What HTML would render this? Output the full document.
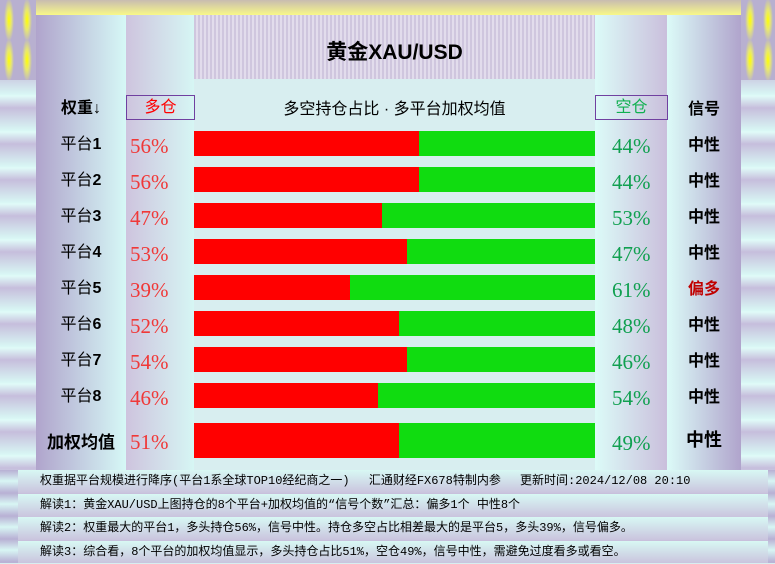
<!DOCTYPE html>
<html><head><meta charset="utf-8"><style>
*{margin:0;padding:0;box-sizing:border-box}
body{width:775px;height:563px;overflow:hidden;background:#d8eef0;font-family:"Liberation Sans","Noto Sans CJK SC",sans-serif;position:relative}
.a{position:absolute}
.side{background:repeating-linear-gradient(180deg,#c6bedc 0px,#d8f6f4 22px,#e0fbf8 24px,#c6bedc 36px)}
.tile{background:radial-gradient(ellipse 5px 22px at 50% 50%,#ffff00 0%,#e8e870 45%,#b8b0d0 100%);background-size:18px 40px}
.lc{background:linear-gradient(90deg,#b0a4cc,#d6f8f6)}
.dc{background:linear-gradient(90deg,#cec4de,#d6f6f4)}
.kc{background:linear-gradient(90deg,#dcfbf8,#cabfdc)}
.sc{background:linear-gradient(90deg,#dcfbf8,#b0a4cc)}
.lab{position:absolute;width:90px;text-align:center;font-size:16px;color:#000}
.pl{position:absolute;left:130px;font-family:"Liberation Serif","Noto Serif CJK SC",serif;font-size:21px;color:#f03838}
.pr{position:absolute;left:612px;font-family:"Liberation Serif","Noto Serif CJK SC",serif;font-size:21px;color:#10a050}
.sg{position:absolute;left:667px;width:74px;text-align:center;font-size:16px;font-weight:bold;color:#000}
.bar{position:absolute;left:194px;width:401px;height:25px;background:#10dc10}
.bar i{display:block;height:100%;background:#ff0000}
.row{position:absolute;left:18px;width:750px;height:23px;background:linear-gradient(180deg,#d8f8f4,#cac4de);font-family:"Liberation Mono","Noto Sans CJK SC",monospace;font-size:12px;line-height:23px;padding-left:22px;color:#000;white-space:nowrap}
</style></head><body>
<div class="a side" style="left:0;top:0;width:36px;height:470px"></div>
<div class="a tile" style="left:0;top:0;width:36px;height:80px"></div>
<div class="a side" style="left:741px;top:0;width:34px;height:470px"></div>
<div class="a tile" style="left:741px;top:0;width:34px;height:80px"></div>
<div class="a" style="left:36px;top:0;width:705px;height:15px;background:linear-gradient(180deg,#c8bcb0,#f8f888)"></div>
<div class="a lc" style="left:36px;top:15px;width:90px;height:455px"></div>
<div class="a dc" style="left:126px;top:15px;width:68px;height:455px"></div>
<div class="a kc" style="left:595px;top:15px;width:72px;height:455px"></div>
<div class="a sc" style="left:667px;top:15px;width:74px;height:455px"></div>
<div class="a" style="left:194px;top:15px;width:401px;height:64px;background:repeating-linear-gradient(90deg,#cfc6de 0 2px,#e2dcec 2px 4px)"></div>
<div class="a" style="left:194px;top:36px;width:401px;text-align:center;font-size:21px;font-weight:bold">黄金XAU/USD</div>
<div class="a" style="left:194px;top:95px;width:401px;text-align:center;font-size:16px">多空持仓占比 · 多平台加权均值</div>
<div class="lab" style="left:36px;top:94px;font-weight:bold">权重↓</div>
<div class="a" style="left:126px;top:95px;width:69px;height:25px;border:1px solid #7040a0;color:#f00;text-align:center;font-size:16px;line-height:23px">多仓</div>
<div class="a" style="left:595px;top:95px;width:73px;height:25px;border:1px solid #7040a0;color:#10b050;text-align:center;font-size:16px;line-height:23px">空仓</div>
<div class="sg" style="top:95px">信号</div>

<div class="lab" style="left:36px;top:130px">平台<b>1</b></div><div class="pl" style="top:134px">56%</div><div class="bar" style="top:131px"><i style="width:56%"></i></div><div class="pr" style="top:134px">44%</div><div class="sg" style="top:131px">中性</div>
<div class="lab" style="left:36px;top:166px">平台<b>2</b></div><div class="pl" style="top:170px">56%</div><div class="bar" style="top:167px"><i style="width:56%"></i></div><div class="pr" style="top:170px">44%</div><div class="sg" style="top:167px">中性</div>
<div class="lab" style="left:36px;top:202px">平台<b>3</b></div><div class="pl" style="top:206px">47%</div><div class="bar" style="top:203px"><i style="width:47%"></i></div><div class="pr" style="top:206px">53%</div><div class="sg" style="top:203px">中性</div>
<div class="lab" style="left:36px;top:238px">平台<b>4</b></div><div class="pl" style="top:242px">53%</div><div class="bar" style="top:239px"><i style="width:53%"></i></div><div class="pr" style="top:242px">47%</div><div class="sg" style="top:239px">中性</div>
<div class="lab" style="left:36px;top:274px">平台<b>5</b></div><div class="pl" style="top:278px">39%</div><div class="bar" style="top:275px"><i style="width:39%"></i></div><div class="pr" style="top:278px">61%</div><div class="sg" style="top:275px;color:#c00000">偏多</div>
<div class="lab" style="left:36px;top:310px">平台<b>6</b></div><div class="pl" style="top:314px">52%</div><div class="bar" style="top:311px"><i style="width:51%"></i></div><div class="pr" style="top:314px">48%</div><div class="sg" style="top:311px">中性</div>
<div class="lab" style="left:36px;top:346px">平台<b>7</b></div><div class="pl" style="top:350px">54%</div><div class="bar" style="top:347px"><i style="width:53%"></i></div><div class="pr" style="top:350px">46%</div><div class="sg" style="top:347px">中性</div>
<div class="lab" style="left:36px;top:382px">平台<b>8</b></div><div class="pl" style="top:386px">46%</div><div class="bar" style="top:383px"><i style="width:46%"></i></div><div class="pr" style="top:386px">54%</div><div class="sg" style="top:383px">中性</div>
<div class="lab" style="left:36px;top:428px;font-weight:bold;font-size:17px">加权均值</div><div class="pl" style="top:430px">51%</div><div class="bar" style="top:423px;height:35px"><i style="width:51%"></i></div><div class="pr" style="top:431px">49%</div><div class="sg" style="top:426px;font-size:18px">中性</div>

<div class="a" style="left:0;top:470px;width:775px;height:93px;background:#c8c0dc"></div>
<div class="a" style="left:0;top:470px;width:18px;height:93px;background:repeating-linear-gradient(180deg,#b8b0d4 0,#d8f6f4 11px,#b8b0d4 23px)"></div>
<div class="a" style="left:768px;top:470px;width:7px;height:93px;background:repeating-linear-gradient(180deg,#b8b0d4 0,#d8f6f4 11px,#b8b0d4 23px)"></div>
<div class="row" style="top:470px">权重据平台规模进行降序(平台1系全球TOP10经纪商之一)　 汇通财经FX678特制内参　 更新时间:2024/12/08 20:10</div>
<div class="row" style="top:494px">解读1：黄金XAU/USD上图持仓的8个平台+加权均值的“信号个数”汇总：偏多1个 中性8个</div>
<div class="row" style="top:517px">解读2：权重最大的平台1，多头持仓56%，信号中性。持仓多空占比相差最大的是平台5，多头39%，信号偏多。</div>
<div class="row" style="top:541px;height:22px">解读3：综合看，8个平台的加权均值显示，多头持仓占比51%，空仓49%，信号中性，需避免过度看多或看空。</div>
</body></html>
